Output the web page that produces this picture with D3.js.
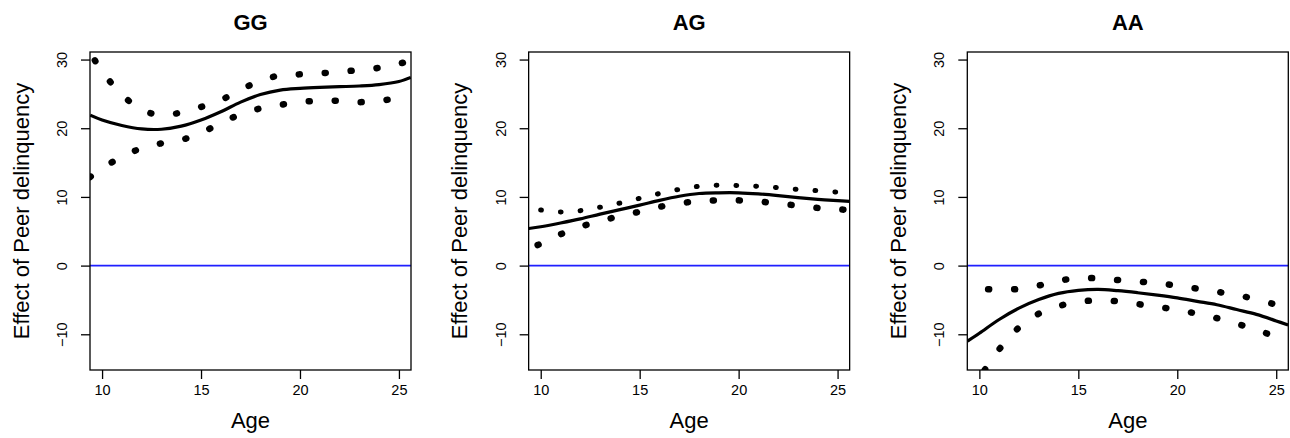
<!DOCTYPE html>
<html>
<head>
<meta charset="utf-8">
<script src="https://cdn.jsdelivr.net/npm/d3@7"></script>
<style>
  html, body { margin: 0; padding: 0; background: #fff; }
  svg { display: block; font-family: "Liberation Sans", Arial, Helvetica, sans-serif; }
</style>
</head>
<body>
<div id="chart"></div>
<script>
// values, one entry per age
const ages = [9.4, 10, 11, 12, 13, 14, 15, 16, 17, 18, 19, 20, 21, 22, 23, 24, 25, 25.6];

const ggMean  = [21.9, 21.2, 20.4, 19.9, 19.85, 20.3, 21.2, 22.4, 23.8, 24.9, 25.55, 25.8, 25.95, 26.05, 26.15, 26.35, 26.8, 27.4];
const ggUpper = [31.0, 28.3, 24.9, 22.7, 21.9, 22.3, 23.1, 24.1, 25.6, 26.9, 27.7, 27.85, 28.0, 28.2, 28.5, 28.8, 29.4, 29.8];
const ggLower = [12.9, 14.2, 15.8, 17.1, 17.8, 18.3, 19.3, 20.8, 22.0, 22.9, 23.4, 23.8, 24.0, 24.0, 23.8, 24.0, 24.4, 24.7];

const agMean  = [5.4, 5.65, 6.2, 6.8, 7.5, 8.15, 8.8, 9.5, 10.1, 10.5, 10.6, 10.6, 10.45, 10.2, 9.9, 9.65, 9.45, 9.35];
const agUpper = [8.4, 8.1, 7.8, 8.0, 8.5, 9.1, 9.8, 10.5, 11.1, 11.55, 11.7, 11.65, 11.55, 11.35, 11.1, 10.9, 10.7, 10.6];
const agLower = [2.4, 3.2, 4.55, 5.65, 6.5, 7.2, 7.85, 8.55, 9.05, 9.4, 9.5, 9.5, 9.35, 9.0, 8.75, 8.4, 8.2, 8.1];

const aaMean  = [-11.0, -9.85, -7.85, -6.2, -4.95, -4.05, -3.6, -3.45, -3.65, -3.95, -4.3, -4.7, -5.2, -5.7, -6.4, -7.1, -8.05, -8.65];
const aaUpper = [-3.5, -3.4, -3.5, -3.4, -2.9, -2.2, -1.85, -1.85, -2.1, -2.3, -2.6, -2.9, -3.35, -3.8, -4.3, -4.9, -5.7, -6.2];
const aaLower = [-18.5, -16.3, -12.2, -9.0, -7.0, -5.9, -5.3, -5.05, -5.2, -5.6, -6.0, -6.45, -7.0, -7.65, -8.45, -9.35, -10.4, -11.1];

const titles = ['GG', 'AG', 'AA'];
const xTicks = [10, 15, 20, 25];
const yTicks = [-10, 0, 10, 20, 30];

// dotted bands: dot period, dot width, phase
const panels = [
  { title: titles[0], mean: ggMean, upper: ggUpper, lower: ggLower,
    up: { period: 26, w: 6.5, off: 17 }, lo: { period: 26, w: 6.5, off: 0 } },
  { title: titles[1], mean: agMean, upper: agUpper, lower: agLower,
    up: { period: 19.8, w: 5, off: 7.8 }, lo: { period: 26, w: 6.5, off: 16.4 } },
  { title: titles[2], mean: aaMean, upper: aaUpper, lower: aaLower,
    up: { period: 26, w: 6.5, off: 5.3 }, lo: { period: 26, w: 6.5, off: 23.6 } }
];

const W = 1290, H = 438;
const box = { left: 90, top: 52, w: 321, h: 318, step: 438.65 };

const svg = d3.select('#chart').append('svg').attr('width', W).attr('height', H);

const x = d3.scaleLinear().domain([9.39, 25.61]).range([0, box.w]);
const y = d3.scaleLinear().domain([-15.2, 31.1]).range([box.h, 0]);

const line = (vals) => d3.line()
  .x((d, i) => x(ages[i]))
  .y((d) => y(d))
  .curve(d3.curveCatmullRom.alpha(0.5))(vals);

function dotted(sel, vals, st) {
  const dot = st.w > 6 ? 1 : 0.8;
  sel.append('path').attr('d', line(vals))
    .attr('fill', 'none').attr('stroke', '#000')
    .attr('stroke-width', st.w).attr('stroke-linecap', 'round')
    .attr('stroke-dasharray', `${dot},${st.period - dot}`)
    .attr('stroke-dashoffset', st.off);
}

panels.forEach((p, k) => {
  const g = svg.append('g').attr('transform', `translate(${box.left + k * box.step},${box.top})`);

  g.append('clipPath').attr('id', 'clip' + k)
    .append('rect').attr('width', box.w).attr('height', box.h);

  const plot = g.append('g').attr('clip-path', `url(#clip${k})`);

  plot.append('line')
    .attr('x1', 0).attr('x2', box.w)
    .attr('y1', y(0)).attr('y2', y(0))
    .attr('stroke', '#1f1fff').attr('stroke-width', 1.6);

  plot.append('path').attr('d', line(p.mean))
    .attr('fill', 'none').attr('stroke', '#000').attr('stroke-width', 3.2);

  dotted(plot, p.upper, p.up);
  dotted(plot, p.lower, p.lo);

  g.append('rect').attr('width', box.w).attr('height', box.h)
    .attr('fill', 'none').attr('stroke', '#000').attr('stroke-width', 1.3);

  // x axis
  const xa = g.append('g').attr('transform', `translate(0,${box.h})`)
    .call(d3.axisBottom(x).tickValues(xTicks).tickSize(9).tickPadding(6).tickFormat(d3.format('d')));
  xa.select('.domain').remove();
  xa.selectAll('line').attr('stroke', '#000').attr('stroke-width', 1.3);
  xa.selectAll('text').attr('font-size', 14.5).attr('fill', '#000')
    .attr('font-family', '"Liberation Sans", Arial, sans-serif');

  // y axis, labels parallel to the axis
  const ya = g.append('g')
    .call(d3.axisLeft(y).tickValues(yTicks).tickSize(9).tickFormat((d) => d < 0 ? '\u2212' + Math.abs(d) : d));
  ya.select('.domain').remove();
  ya.selectAll('line').attr('stroke', '#000').attr('stroke-width', 1.3);
  ya.selectAll('text')
    .attr('font-size', 14.5).attr('fill', '#000')
    .attr('font-family', '"Liberation Sans", Arial, sans-serif')
    .attr('x', null).attr('dy', null)
    .attr('text-anchor', 'middle')
    .attr('transform', 'translate(-23,0) rotate(-90)');

  g.append('text')
    .attr('x', box.w / 2).attr('y', -22)
    .attr('text-anchor', 'middle')
    .attr('font-size', 22).attr('font-weight', 'bold')
    .text(p.title);

  g.append('text')
    .attr('x', box.w / 2).attr('y', box.h + 58)
    .attr('text-anchor', 'middle')
    .attr('font-size', 22)
    .text('Age');

  g.append('text')
    .attr('transform', `translate(-61.5,${box.h / 2}) rotate(-90)`)
    .attr('text-anchor', 'middle')
    .attr('font-size', 22)
    .text('Effect of Peer delinquency');
});
</script>
</body>
</html>
